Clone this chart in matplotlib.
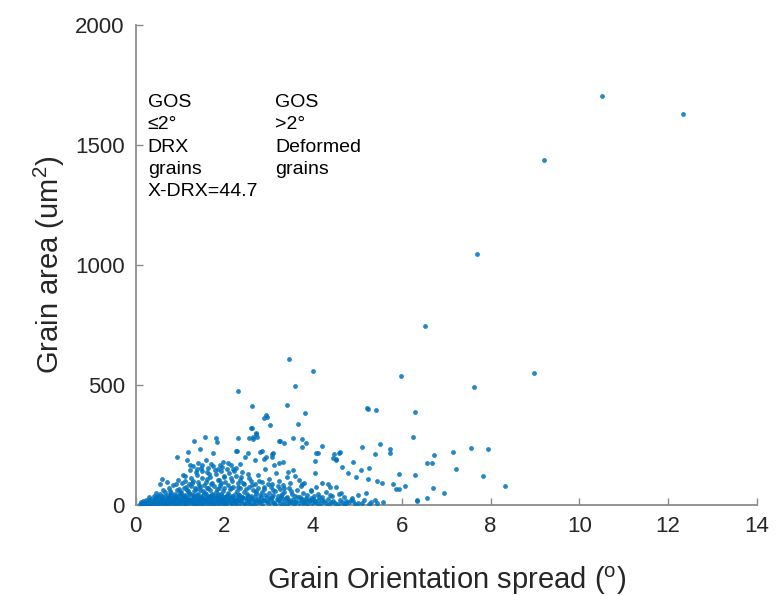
import matplotlib
matplotlib.use("Agg")
import matplotlib.pyplot as plt

plt.rcParams['font.family'] = ['Liberation Sans', 'DejaVu Sans']
plt.rcParams['mathtext.default'] = 'regular'

# outliers, far right of the cloud
far_spread = [10.51, 12.34, 9.21, 7.69, 6.52, 8.98, 7.62]
far_area = [1705, 1629, 1439, 1046, 747, 549, 490]

# deformed grains, 6-8.5 degrees
right_spread = [6.72, 7.15, 7.56, 7.95, 6.57, 6.69, 7.22, 7.82, 8.33, 6.71, 6.96, 6.57,
                5.98, 6.30, 6.25, 5.94, 6.30, 6.06, 5.94, 6.35, 6.34]
right_area = [209, 219, 237, 232, 173, 176, 148, 120, 79, 69, 49, 30,
              537, 385, 281, 129, 124, 80, 66, 21, 15]

# middle scatter, read point by point
mid_spread = [3.46, 4.00, 3.59, 5.21, 5.41, 2.85, 3.26, 3.35, 5.10, 5.50, 5.73, 5.73,
              5.40, 4.46, 4.51, 4.10, 4.60, 4.04, 4.89, 5.27, 4.64, 4.78, 4.96, 5.08,
              5.23, 5.45, 5.55, 5.79, 5.86, 5.58, 5.39, 5.19, 5.02, 4.75, 4.62, 4.51,
              4.33, 4.37, 4.38, 4.20, 4.07, 3.96, 4.14, 3.99, 3.84, 3.73, 3.80, 3.67,
              4.05, 3.54, 3.43, 3.24, 3.11, 2.94, 3.08,
              2.31, 2.61, 3.41, 3.82, 2.93, 2.96, 2.90, 3.02, 2.62, 2.72, 2.73, 3.65,
              2.55, 2.64, 3.24, 3.54, 3.75, 3.83, 3.74, 4.19, 2.28, 2.79, 3.09, 3.08,
              2.46, 2.90, 3.32, 4.59, 4.06, 4.44, 4.52, 5.23]
mid_area = [607, 556, 497, 402, 397, 225, 266, 256, 239, 253, 232, 217,
            213, 210, 191, 216, 221, 184, 178, 155, 159, 134, 115, 145,
            109, 101, 93, 87, 65, 12, 21, 49, 40, 14, 51, 76,
            87, 76, 41, 91, 76, 62, 34, 24, 28, 79, 90, 104,
            131, 145, 138, 173, 166, 200, 212,
            476, 412, 418, 383, 376, 366, 360, 332, 321, 300, 283, 336,
            277, 274, 267, 279, 275, 256, 242, 245, 225, 221, 214, 200,
            198, 192, 180, 214, 214, 194, 187, 401]

# upper part of the DRX cluster
upper_spread = [1.55, 1.31, 1.44, 1.80, 1.84, 2.31, 2.60, 2.64, 2.72, 1.18, 0.94, 1.15,
                1.74, 1.59, 1.41, 1.97, 2.08, 2.27, 2.53, 2.68, 0.59, 1.07,
                1.22, 1.30, 1.38, 1.50, 1.62, 1.70, 1.75, 1.85, 1.90, 1.95, 2.05, 2.15,
                2.25, 2.35]
upper_area = [281, 266, 231, 279, 263, 279, 322, 283, 295, 221, 200, 187,
              217, 187, 176, 180, 173, 225, 217, 187, 109, 124,
              165, 160, 150, 168, 155, 172, 160, 150, 165, 158, 150, 165,
              155, 170]

# band 80-160
band_c_spread = [0.55, 0.70, 0.85, 0.95, 1.05, 1.12, 1.20, 1.28, 1.35, 1.42, 1.50, 1.58,
                 1.65, 1.70, 1.78, 1.86, 1.93, 2.00, 2.08, 2.15, 2.22, 2.30, 2.38, 2.45,
                 2.52, 2.60, 2.68, 2.76, 2.84, 2.92, 3.00, 3.08, 3.16, 3.24, 3.32, 3.40,
                 3.48, 3.60, 3.75]
band_c_area = [85, 95, 82, 105, 90, 120, 88, 100, 135, 84, 112, 96,
               128, 86, 145, 104, 90, 122, 83, 110, 140, 92, 118, 85,
               130, 100, 88, 125, 95, 150, 108, 86, 132, 98, 82, 115,
               92, 120, 88]

# band 30-80
band_b_spread = [0.30, 0.40, 0.48, 0.55, 0.60, 0.66, 0.72, 0.78, 0.82, 0.88, 0.92, 0.96,
                 1.00, 1.04, 1.08, 1.12, 1.16, 1.20, 1.24, 1.28, 1.32, 1.36, 1.40, 1.44,
                 1.48, 1.52, 1.56, 1.60, 1.64, 1.68, 1.72, 1.76, 1.80, 1.84, 1.88, 1.92,
                 1.96, 2.00, 2.04, 2.08, 2.12, 2.16, 2.20, 2.24, 2.28, 2.32, 2.36, 2.40,
                 2.45, 2.50, 2.55, 2.60, 2.65, 2.70, 2.75, 2.80, 2.85, 2.90, 2.95, 3.00,
                 3.05, 3.10, 3.15, 3.20, 3.25, 3.30, 3.35, 3.40, 3.46, 3.52, 3.58, 3.64,
                 3.70, 3.78, 3.86, 3.94, 4.02, 4.10, 4.20, 4.30, 4.42, 4.58, 4.70, 4.88]
band_b_area = [32, 38, 34, 45, 36, 52, 40, 58, 33, 47, 62, 38,
               54, 42, 70, 35, 60, 48, 78, 39, 56, 66, 44, 74,
               33, 58, 49, 69, 37, 63, 46, 77, 53, 35, 68, 43,
               59, 72, 38, 51, 64, 34, 76, 47, 57, 40, 68, 31,
               53, 44, 73, 36, 61, 48, 70, 39, 55, 66, 33, 50,
               75, 42, 58, 36, 67, 46, 53, 31, 72, 44, 38, 60,
               33, 48, 41, 56, 35, 45, 32, 52, 38, 43, 34, 30]

# band 0-30, densest
band_a_spread = [0.10, 0.14, 0.18, 0.20, 0.22, 0.25, 0.28, 0.30, 0.33, 0.35, 0.38, 0.40,
                 0.42, 0.45, 0.47, 0.50, 0.52, 0.55, 0.58, 0.60, 0.62, 0.65, 0.68, 0.70,
                 0.72, 0.75, 0.78, 0.80, 0.82, 0.85, 0.88, 0.90, 0.92, 0.95, 0.98, 1.00,
                 1.02, 1.05, 1.08, 1.10, 1.12, 1.15, 1.18, 1.20, 1.22, 1.25, 1.28, 1.30,
                 1.32, 1.35, 1.38, 1.40, 1.42, 1.45, 1.48, 1.50, 1.52, 1.55, 1.58, 1.60,
                 1.62, 1.65, 1.68, 1.70, 1.72, 1.75, 1.78, 1.80, 1.82, 1.85, 1.88, 1.90,
                 1.92, 1.95, 1.98, 2.00, 2.03, 2.06, 2.10, 2.13, 2.16, 2.20, 2.23, 2.26,
                 2.30, 2.34, 2.38, 2.42, 2.46, 2.50, 2.54, 2.58, 2.62, 2.66, 2.70, 2.75,
                 2.80, 2.85, 2.90, 2.95, 3.00, 3.05, 3.10, 3.15, 3.20, 3.25, 3.30, 3.35,
                 3.40, 3.45, 3.50, 3.56, 3.62, 3.68, 3.74, 3.80, 3.86, 3.92, 3.98, 4.05,
                 4.12, 4.20, 4.28, 4.36, 4.45, 4.55, 4.65, 4.75, 4.85, 4.95, 5.10, 5.25,
                 5.45]
band_a_area = [2, 5, 3, 8, 1, 12, 4, 7, 15, 2, 10, 18,
               5, 22, 9, 3, 14, 26, 6, 19, 11, 2, 24, 8,
               16, 29, 4, 13, 21, 7, 27, 1, 17, 10, 23, 5,
               14, 28, 9, 19, 3, 25, 12, 7, 22, 16, 2, 29,
               10, 20, 6, 26, 13, 4, 18, 24, 8, 15, 28, 3,
               21, 11, 6, 27, 17, 2, 23, 9, 14, 29, 5, 19,
               12, 25, 7, 16, 3, 22, 10, 27, 6, 18, 13, 2,
               24, 9, 15, 28, 5, 20, 11, 4, 23, 14, 8, 26,
               17, 3, 21, 10, 6, 25, 13, 2, 19, 9, 28, 15,
               5, 22, 11, 3, 17, 8, 24, 12, 4, 19, 7, 14,
               3, 22, 9, 5, 16, 2, 11, 6, 18, 4, 9, 3,
               7]

# second pass over the solid base of the cluster, 0-45
base_pairs = [(0.12, 10), (0.16, 14), (0.19, 6), (0.23, 18), (0.26, 9), (0.29, 21),
              (0.31, 3), (0.34, 25), (0.37, 13), (0.39, 6), (0.43, 30), (0.46, 16),
              (0.49, 11), (0.51, 35), (0.54, 20), (0.57, 8), (0.59, 28), (0.63, 14),
              (0.66, 38), (0.69, 4), (0.71, 23), (0.74, 33), (0.77, 11), (0.79, 41),
              (0.83, 17), (0.86, 26), (0.89, 36), (0.91, 6), (0.94, 30), (0.97, 19),
              (0.99, 43), (1.03, 12), (1.06, 34), (1.09, 22), (1.11, 40), (1.14, 8),
              (1.17, 31), (1.19, 18), (1.23, 44), (1.26, 25), (1.29, 11), (1.31, 37),
              (1.34, 5), (1.37, 28), (1.39, 42), (1.43, 20), (1.46, 34), (1.49, 9),
              (1.51, 39), (1.54, 26), (1.57, 17), (1.59, 44), (1.63, 31), (1.66, 12),
              (1.69, 36), (1.71, 22), (1.74, 41), (1.77, 7), (1.79, 32), (1.83, 19),
              (1.86, 45), (1.89, 27), (1.91, 13), (1.94, 38), (1.97, 24), (1.99, 4),
              (2.02, 33), (2.05, 17), (2.08, 42), (2.11, 26), (2.14, 9), (2.18, 37),
              (2.21, 21), (2.25, 30), (2.28, 14), (2.32, 40), (2.36, 19), (2.40, 33),
              (2.44, 8), (2.48, 27), (2.52, 38), (2.56, 16), (2.60, 29), (2.64, 5),
              (2.68, 35), (2.72, 20), (2.77, 12), (2.82, 31), (2.87, 22), (2.92, 39),
              (2.97, 15), (3.02, 27), (3.07, 34), (3.12, 8), (3.18, 24), (3.23, 18),
              (3.28, 36), (3.33, 4), (3.38, 29), (3.43, 16), (3.48, 10), (3.54, 26),
              (3.60, 12), (3.66, 32), (3.72, 18), (3.78, 6), (3.84, 22), (3.90, 14),
              (3.96, 29), (4.03, 10), (4.10, 20), (4.17, 6), (4.25, 15), (4.33, 26),
              (4.40, 12), (4.50, 8), (4.60, 20), (4.70, 3), (4.80, 10), (4.90, 14),
              (5.00, 6), (5.15, 18), (5.30, 10)]

# clumps between 45 and 150
clump_pairs = [(0.45, 48), (0.62, 60), (0.75, 72), (0.80, 50), (0.90, 88), (0.98, 66),
               (1.02, 55), (1.10, 98), (1.14, 76), (1.18, 58), (1.25, 112), (1.27, 90),
               (1.33, 70), (1.38, 125), (1.40, 96), (1.45, 62), (1.50, 140), (1.53, 84),
               (1.60, 108), (1.63, 72), (1.67, 118), (1.72, 92), (1.80, 128), (1.82, 64),
               (1.88, 102), (1.90, 82), (1.98, 115), (2.02, 94), (2.10, 132), (2.14, 70),
               (2.18, 98), (2.26, 120), (2.30, 76), (2.35, 105), (2.42, 90), (2.48, 65),
               (2.56, 112), (2.62, 82), (2.70, 58), (2.78, 100), (2.88, 75), (2.98, 88),
               (3.10, 62), (3.20, 80), (3.35, 68), (3.50, 58), (1.23, 145), (1.47, 152),
               (1.60, 138), (1.92, 142), (2.20, 150), (2.40, 135)]

spread = (far_spread + right_spread + mid_spread + upper_spread
          + band_c_spread + band_b_spread + band_a_spread)
area = (far_area + right_area + mid_area + upper_area
        + band_c_area + band_b_area + band_a_area)
for sx, ar in base_pairs + clump_pairs:
    spread.append(sx)
    area.append(ar)

fig = plt.figure(figsize=(7.76, 5.96), dpi=100)
ax = fig.add_axes([0.175, 0.153, 0.80, 0.805])

ax.scatter(spread, area, s=12, color='#0072BD', alpha=0.85, linewidths=0, zorder=3)

ax.set_xlim(0, 14)
ax.set_ylim(0, 2000)
ax.set_xticks(range(0, 15, 2))
ax.set_yticks([0, 500, 1000, 1500, 2000])

for side in ['top', 'right']:
    ax.spines[side].set_visible(False)
for side in ['left', 'bottom']:
    ax.spines[side].set_color('#8c8c8c')
    ax.spines[side].set_linewidth(1.3)

ax.tick_params(direction='in', length=5, width=1, color='#8c8c8c',
               labelsize=16, labelcolor='#262626', pad=8)

ax.set_xlabel('Grain Orientation spread ($^{o}$)', fontsize=21, color='#262626', labelpad=20)
ax.set_ylabel('Grain area (um$^{2}$)', fontsize=21, color='#262626', labelpad=6)

ax.text(0.27, 1712, 'GOS\n≤2°\nDRX\ngrains\nX-DRX=44.7', fontsize=14,
        va='top', ha='left', linespacing=1.4, color='black')
ax.text(3.15, 1712, 'GOS\n>2°\nDeformed\ngrains', fontsize=14,
        va='top', ha='left', linespacing=1.4, color='black')

fig.savefig('out.png', dpi=100)
